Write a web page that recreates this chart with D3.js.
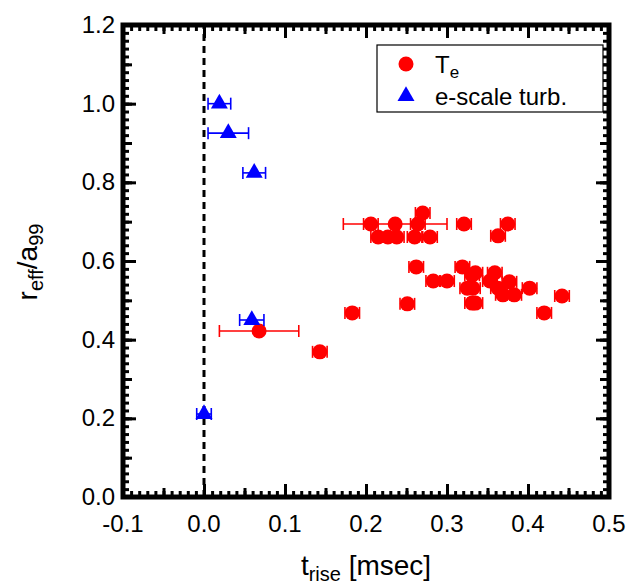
<!DOCTYPE html>
<html>
<head>
<meta charset="utf-8">
<script src="https://cdn.jsdelivr.net/npm/d3@7"></script>
<style>
  body { margin: 0; background: #fff; }
  text { font-family: "Liberation Sans", Arial, sans-serif; }
</style>
</head>
<body>
<div id="chart"></div>
<script>
// T_e points: rise time, r_eff/a99, error in rise time
var teX   = [0.068, 0.143, 0.183, 0.251, 0.206, 0.236, 0.264, 0.321, 0.375, 0.215, 0.227, 0.238,
             0.260, 0.279, 0.363, 0.270, 0.262, 0.319, 0.331, 0.335, 0.359, 0.283, 0.300, 0.353,
             0.377, 0.325, 0.332, 0.363, 0.402, 0.369, 0.383, 0.442, 0.331, 0.335, 0.420]
var teY   = [0.422, 0.369, 0.468, 0.491, 0.694, 0.694, 0.694, 0.694, 0.694, 0.661, 0.661, 0.661,
             0.661, 0.661, 0.664, 0.722, 0.585, 0.585, 0.564, 0.570, 0.570, 0.549, 0.549, 0.549,
             0.547, 0.531, 0.531, 0.531, 0.531, 0.514, 0.514, 0.511, 0.493, 0.493, 0.468]
var teErr = [0.049, 0.009, 0.009, 0.009, 0.009, 0.064, 0.009, 0.009, 0.009, 0.009, 0.009, 0.009,
             0.009, 0.009, 0.009, 0.009, 0.009, 0.009, 0.009, 0.009, 0.009, 0.009, 0.009, 0.009,
             0.009, 0.009, 0.009, 0.009, 0.009, 0.009, 0.009, 0.009, 0.009, 0.009, 0.009]

// e-scale turbulence points
var turbX   = [0.019, 0.030, 0.062, 0.059, 0.000]
var turbY   = [1.000, 0.925, 0.824, 0.450, 0.211]
var turbErr = [0.014, 0.025, 0.014, 0.015, 0.009]

var xTicks = [-0.1, 0.0, 0.1, 0.2, 0.3, 0.4, 0.5]
var yTicks = [0.0, 0.2, 0.4, 0.6, 0.8, 1.0, 1.2]

var W = 629, H = 585
var svg = d3.select('#chart').append('svg').attr('width', W).attr('height', H)

var x = d3.scaleLinear().domain([-0.1, 0.5]).range([123, 609])
var y = d3.scaleLinear().domain([0, 1.2]).range([497, 25])

var red = '#ff0000', blue = '#0000ff'

// dashed zero line
svg.append('line')
    .attr('x1', x(0)).attr('x2', x(0))
    .attr('y1', y(0)).attr('y2', y(1.2))
    .attr('stroke', '#000').attr('stroke-width', 3)
    .attr('stroke-dasharray', '7,5')

var te = teX.map((d, i) => ({x: d, y: teY[i], e: teErr[i]}))
var turb = turbX.map((d, i) => ({x: d, y: turbY[i], e: turbErr[i]}))

function errBars(data, color) {
    var g = svg.append('g').attr('stroke', color).attr('stroke-width', 1.6)
    var sel = g.selectAll('g').data(data).enter().append('g')
    sel.append('line')
        .attr('x1', d => x(d.x - d.e)).attr('x2', d => x(d.x + d.e))
        .attr('y1', d => y(d.y)).attr('y2', d => y(d.y))
    sel.append('line')
        .attr('x1', d => x(d.x - d.e)).attr('x2', d => x(d.x - d.e))
        .attr('y1', d => y(d.y) - 6).attr('y2', d => y(d.y) + 6)
    sel.append('line')
        .attr('x1', d => x(d.x + d.e)).attr('x2', d => x(d.x + d.e))
        .attr('y1', d => y(d.y) - 6).attr('y2', d => y(d.y) + 6)
}

errBars(te, red)
svg.append('g').selectAll('circle').data(te).enter().append('circle')
    .attr('cx', d => x(d.x)).attr('cy', d => y(d.y)).attr('r', 7.5)
    .attr('fill', red)

errBars(turb, blue)
var tri = d3.symbol().type(d3.symbolTriangle).size(125)
svg.append('g').selectAll('path').data(turb).enter().append('path')
    .attr('d', tri)
    .attr('transform', d => `translate(${x(d.x)},${y(d.y)})`)
    .attr('fill', blue)

// axes with inward ticks on all four sides
function addAxis(axis, tx, ty) {
    var g = svg.append('g').attr('transform', `translate(${tx},${ty})`).call(axis)
    g.select('.domain').remove()
    g.selectAll('line').attr('stroke', '#000').attr('stroke-width', 3)
    return g
}
var xMinor = d3.range(-10, 51).map(d => d / 100)
var xMid = d3.range(-10, 51, 5).map(d => d / 100)
var yMinor = d3.range(0, 61).map(d => d / 50)
var yMid = d3.range(0, 13).map(d => d / 10)

;[[d3.axisBottom, y(0)], [d3.axisTop, y(1.2)]].forEach(function(a) {
    addAxis(a[0](x).tickValues(xMinor).tickSize(-6).tickFormat(''), 0, a[1])
    addAxis(a[0](x).tickValues(xMid).tickSize(-9).tickFormat(''), 0, a[1])
    addAxis(a[0](x).tickValues(xTicks).tickSize(-13).tickFormat(''), 0, a[1])
})
;[[d3.axisLeft, x(-0.1)], [d3.axisRight, x(0.5)]].forEach(function(a) {
    addAxis(a[0](y).tickValues(yMinor).tickSize(-6).tickFormat(''), a[1], 0)
    addAxis(a[0](y).tickValues(yMid).tickSize(-9).tickFormat(''), a[1], 0)
    addAxis(a[0](y).tickValues(yTicks).tickSize(-13).tickFormat(''), a[1], 0)
})

// frame
svg.append('rect')
    .attr('x', x(-0.1)).attr('y', y(1.2))
    .attr('width', x(0.5) - x(-0.1)).attr('height', y(0) - y(1.2))
    .attr('fill', 'none').attr('stroke', '#000').attr('stroke-width', 5)

// tick labels
var fmt = d => d.toFixed(1)
svg.append('g').selectAll('text').data(xTicks).enter().append('text')
    .attr('x', d => x(d)).attr('y', 532)
    .attr('text-anchor', 'middle').attr('font-size', 24)
    .text(d => fmt(d))
svg.append('g').selectAll('text').data(yTicks).enter().append('text')
    .attr('x', 115).attr('y', d => y(d) + 8)
    .attr('text-anchor', 'end').attr('font-size', 24)
    .text(d => fmt(d))

// axis titles
var xt = svg.append('text').attr('x', 366).attr('y', 575)
    .attr('text-anchor', 'middle').attr('font-size', 28)
xt.append('tspan').text('t')
xt.append('tspan').attr('font-size', 20).attr('dy', 6).text('rise')
xt.append('tspan').attr('dy', -6).text(' [msec]')

var yt = svg.append('text')
    .attr('transform', 'translate(37,262) rotate(-90)')
    .attr('text-anchor', 'middle').attr('font-size', 28)
yt.append('tspan').text('r')
yt.append('tspan').attr('font-size', 20).attr('dy', 6).text('eff')
yt.append('tspan').attr('dy', -6).text('/a')
yt.append('tspan').attr('font-size', 20).attr('dy', 6).text('99')

// legend
var lg = svg.append('g')
lg.append('rect').attr('x', 377).attr('y', 45).attr('width', 226).attr('height', 67)
    .attr('fill', '#fff').attr('stroke', '#000').attr('stroke-width', 1.2)
lg.append('circle').attr('cx', 406).attr('cy', 64).attr('r', 7.5).attr('fill', red)
lg.append('path').attr('d', tri).attr('transform', 'translate(406,96)').attr('fill', blue)
var l1 = lg.append('text').attr('x', 435).attr('y', 73).attr('font-size', 24)
l1.append('tspan').text('T')
l1.append('tspan').attr('font-size', 17).attr('dy', 5).text('e')
lg.append('text').attr('x', 435).attr('y', 105).attr('font-size', 24).text('e-scale turb.')
</script>
</body>
</html>
